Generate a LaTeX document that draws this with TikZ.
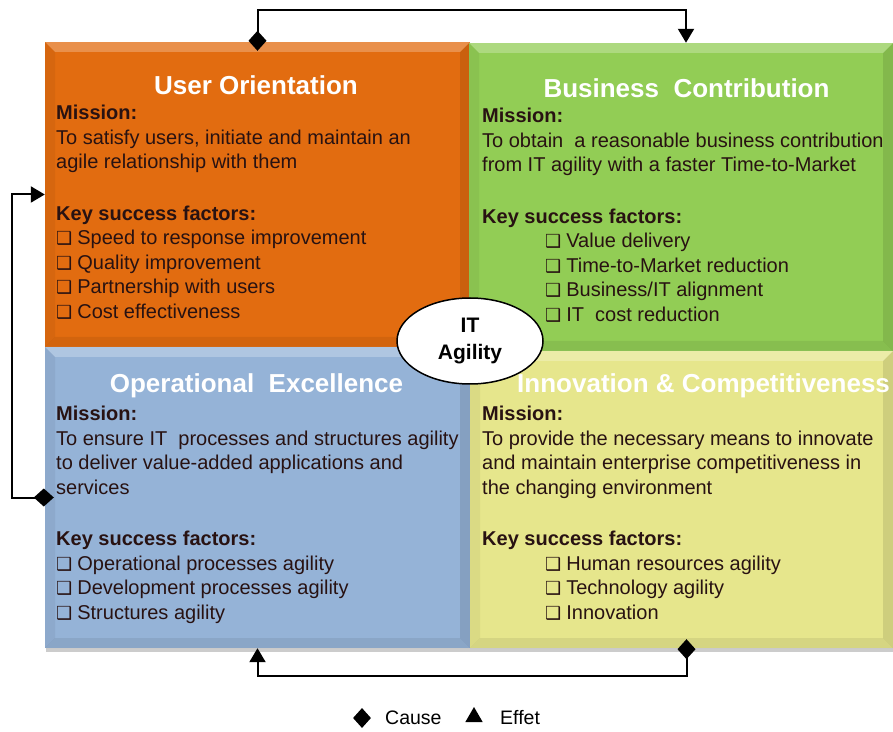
\documentclass[tikz,border=0pt]{standalone}
\usepackage{fontspec}
\setmainfont{Liberation Sans}
\newfontfamily\symfont{DejaVu Sans}
\usetikzlibrary{arrows.meta,shapes.geometric,shadows}

\definecolor{uocol}{RGB}{226,108,16}
\definecolor{bccol}{RGB}{146,205,85}
\definecolor{oecol}{RGB}{149,179,215}
\definecolor{iccol}{RGB}{230,230,140}
\definecolor{txtcol}{RGB}{40,18,18}

\newcommand{\chk}{{\symfont\fontsize{18}{18}\selectfont ❑}\hspace{5pt}}

\tikzset{
	quad/.style={rectangle, inner sep=0pt,
		drop shadow={shadow xshift=1pt, shadow yshift=-4pt, opacity=.2, fill=black},
		path picture={
			\coordinate (pnw) at (path picture bounding box.north west);
			\coordinate (pne) at (path picture bounding box.north east);
			\coordinate (psw) at (path picture bounding box.south west);
			\coordinate (pse) at (path picture bounding box.south east);
			\fill [white, opacity=.25] (pnw) -- (pne) -- ([shift={(-10,-10)}]pne) -- ([shift={(10,-10)}]pnw) -- cycle;
			\fill [black, opacity=.05] (pnw) -- ([shift={(10,-10)}]pnw) -- ([shift={(10,10)}]psw) -- (psw) -- cycle;
			\fill [black, opacity=.1] (pne) -- ([shift={(-10,-10)}]pne) -- ([shift={(-10,10)}]pse) -- (pse) -- cycle;
			\fill [black, opacity=.07] (psw) -- ([shift={(10,10)}]psw) -- ([shift={(-10,10)}]pse) -- (pse) -- cycle;
		}},
	title/.style={text=white, inner sep=0pt, font=\bfseries\fontsize{26}{30}\selectfont},
	body/.style={anchor=north west, align=left, inner sep=0pt, text=txtcol, font=\fontsize{20}{24.5}\selectfont},
	link/.style={line width=2pt, {Diamond[length=20pt,width=18pt]}-{Triangle[length=14pt,width=16pt]}, shorten <=-9pt}
}

\begin{document}
\begin{tikzpicture}[x=1pt, y=1pt]
	\useasboundingbox (0,0) rectangle (893,731);

	\node [quad, fill=uocol, minimum width=425pt, minimum height=305pt] (uo) at (257.5,536.5) {};
	\node [quad, fill=bccol, minimum width=424pt, minimum height=308pt] (bc) at (681,534) {};
	\node [quad, fill=oecol, minimum width=425pt, minimum height=301pt] (oe) at (257.5,233.5) {};
	\node [quad, fill=iccol, minimum width=423pt, minimum height=297pt] (ic) at (681.5,231.5) {};

	\node [title] (uotitle) at (256,646) {User Orientation};
	\node [title] (bctitle) at (686.5,643) {Business~ Contribution};
	\node [title] (oetitle) at (256.5,345) {Operational~ Excellence};
	\node [title, anchor=west] (ictitle) at (517,345) {Innovation \& Competitiveness};

	\node [body] (uotext) at (56,626) {\textbf{Mission:}\\
		To satisfy users, initiate and maintain an\\
		agile relationship with them\\[27pt]
		\textbf{Key success factors:}\\
		\chk Speed to response improvement\\
		\chk Quality improvement\\
		\chk Partnership with users\\
		\chk Cost effectiveness};
	\node [body] (bctext) at (482,623) {\textbf{Mission:}\\
		To obtain~ a reasonable business contribution\\
		from IT agility with a faster Time-to-Market\\[27pt]
		\textbf{Key success factors:}\\
		\hspace*{63pt}\chk Value delivery\\
		\hspace*{63pt}\chk Time-to-Market reduction\\
		\hspace*{63pt}\chk Business/IT alignment\\
		\hspace*{63pt}\chk IT~ cost reduction};
	\node [body] (oetext) at (56,325) {\textbf{Mission:}\\
		To ensure IT~ processes and structures agility\\
		to deliver value-added applications and\\
		services\\[27pt]
		\textbf{Key success factors:}\\
		\chk Operational processes agility\\
		\chk Development processes agility\\
		\chk Structures agility};
	\node [body] (ictext) at (482,325) {\textbf{Mission:}\\
		To provide the necessary means to innovate\\
		and maintain enterprise competitiveness in\\
		the changing environment\\[27pt]
		\textbf{Key success factors:}\\
		\hspace*{63pt}\chk Human resources agility\\
		\hspace*{63pt}\chk Technology agility\\
		\hspace*{63pt}\chk Innovation};

	\node [ellipse, draw, fill=white, line width=1.5pt, minimum width=146pt, minimum height=86pt, inner sep=0pt, align=center, font=\bfseries\fontsize{21}{27}\selectfont] (agility) at (470,390) {IT\\Agility};

	\draw [link] (uo.north) -- ++(0,32) -| ([xshift=5pt]bc.north);
	\draw [link] (oe.west) -- ++(-33,0) |- (uo.west);
	\draw [link] ([xshift=5pt]ic.south) -- ++(0,-28) -| (oe.south);

	\node [diamond, fill=black, minimum width=18pt, minimum height=20pt, inner sep=0pt] (causemark) at (362,13) {};
	\node [right, inner sep=0pt, font=\fontsize{19.5}{24}\selectfont] (causetext) at (385,13) {Cause};
	\node [regular polygon, regular polygon sides=3, fill=black, minimum size=20pt, inner sep=0pt] (effetmark) at (474,14) {};
	\node [right, inner sep=0pt, font=\fontsize{19.5}{24}\selectfont] (effettext) at (500,13) {Effet};
\end{tikzpicture}
\end{document}
